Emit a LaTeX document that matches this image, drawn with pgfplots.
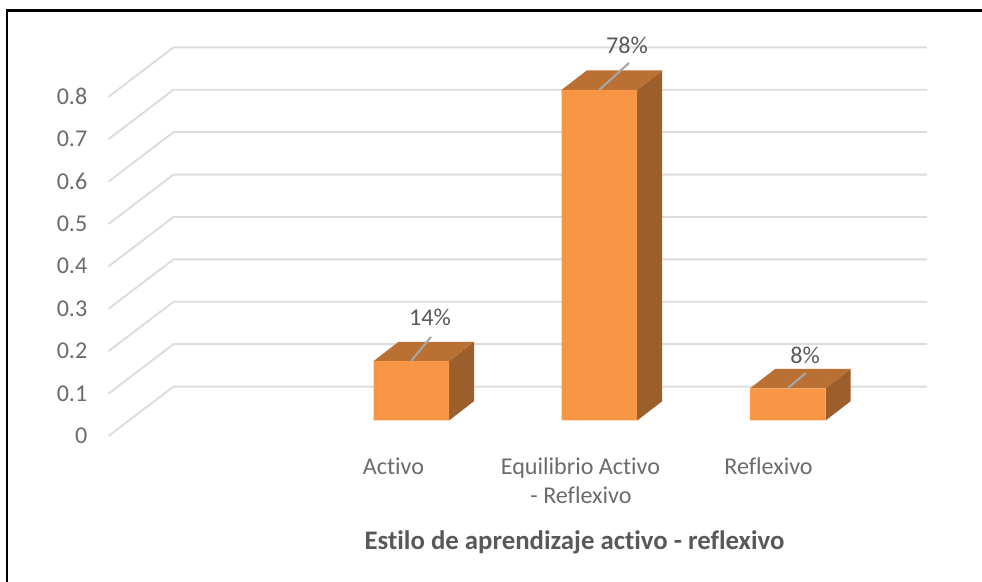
\documentclass[border=0pt]{standalone}
\usepackage{fontspec}
\setmainfont[RawFeature={-liga}]{Carlito}
\usepackage{pgfplots}
\pgfplotsset{compat=1.18}
\definecolor{front}{HTML}{F99645}
\definecolor{topf}{HTML}{BA7033}
\definecolor{sidef}{HTML}{9C5E2A}
\definecolor{gridc}{HTML}{DCDCDC}
\definecolor{leader}{HTML}{A6A6A6}
\definecolor{txt}{HTML}{595959}
\definecolor{tick}{HTML}{6B6B6B}
\newcommand{\fs}{\fontsize{24.2pt}{28pt}\selectfont}
\begin{document}
\begin{tikzpicture}
\useasboundingbox (0,0) rectangle (982bp,582bp);
\begin{axis}[
  at={(0,0)}, anchor=south west,
  scale only axis, width=982bp, height=582bp,
  xmin=0, xmax=982, ymin=-0.38090, ymax=0.99175,
  axis lines=none, clip=false,
]
% frame
\addplot[black, line width=2.4bp, no marks, line join=miter] coordinates {(7,-0.38090) (7,0.9669) (982,0.9669)};
% gridlines: front end, back corner, right end (offset of the 3D floor)
\pgfplotsinvokeforeach{0,0.1,0.2,0.3,0.4,0.5,0.6,0.7,0.8}{
  \addplot[gridc, line width=1.9bp, no marks] coordinates {(108.5,#1-0.0366) (173.5,#1+0.08) (927,#1+0.08)};
}
% side faces
\addplot[sidef, fill=sidef, draw=none, no marks] coordinates {(449,0) (474,0.0455) (474,0.1855) (449,0.14)};
\addplot[sidef, fill=sidef, draw=none, no marks] coordinates {(637.2,0) (662.2,0.0455) (662.2,0.8255) (637.2,0.78)};
\addplot[sidef, fill=sidef, draw=none, no marks] coordinates {(825.6,0) (850.6,0.0455) (850.6,0.1215) (825.6,0.076)};
% top faces
\addplot[topf, fill=topf, draw=none, no marks] coordinates {(373.5,0.14) (449,0.14) (474,0.1855) (398.5,0.1855)};
\addplot[topf, fill=topf, draw=none, no marks] coordinates {(561.7,0.78) (637.2,0.78) (662.2,0.8255) (586.7,0.8255)};
\addplot[topf, fill=topf, draw=none, no marks] coordinates {(750.1,0.076) (825.6,0.076) (850.6,0.1215) (775.1,0.1215)};
% front faces
\addplot[ybar, bar width=75.5bp, bar shift=0pt, fill=front, draw=none] coordinates {(411.25,0.14) (599.45,0.78) (787.85,0.076)};
% leader lines
\addplot[leader, line width=2.1bp, no marks] coordinates {(411,0.14) (431,0.1972)};
\addplot[leader, line width=2.1bp, no marks] coordinates {(599.3,0.78) (629,0.8432)};
\addplot[leader, line width=2.1bp, no marks] coordinates {(787.7,0.076) (805.7,0.1120)};
% data labels
\node[anchor=base, text=txt, font=\fs, inner sep=0pt] at (axis cs:430,0.2229) {14\%};
\node[anchor=base, text=txt, font=\fs, inner sep=0pt] at (axis cs:627,0.8663) {78\%};
\node[anchor=base, text=txt, font=\fs, inner sep=0pt] at (axis cs:805,0.1356) {8\%};
% category labels
\node[anchor=base, text=tick, font=\fs, inner sep=0pt] at (axis cs:393.5,-0.1262) {Activo};
\node[anchor=base, text=tick, font=\fs, inner sep=0pt] at (axis cs:580.5,-0.1262) {Equilibrio Activo};
\node[anchor=base, text=tick, font=\fs, inner sep=0pt] at (axis cs:581,-0.1969) {- Reflexivo};
\node[anchor=base, text=tick, font=\fs, inner sep=0pt] at (axis cs:768.5,-0.1262) {Reflexivo};
% axis title
\node[anchor=base, text=txt, font=\fontsize{26.9pt}{30pt}\selectfont\bfseries, inner sep=0pt] at (axis cs:574.5,-0.3031) {Estilo de aprendizaje activo - reflexivo};
\end{axis}
\begin{axis}[
  at={(108bp,146bp)}, anchor=south west,
  scale only axis, width=100bp, height=340bp,
  xmin=0, xmax=1, ymin=0, ymax=0.8,
  axis x line=none, axis y line=left, y axis line style={draw=none},
  major tick length=0pt,
  ytick={0,0.1,0.2,0.3,0.4,0.5,0.6,0.7,0.8},
  yticklabels={0,0.1,0.2,0.3,0.4,0.5,0.6,0.7,0.8},
  y tick label style={font=\fs, text=tick, inner sep=0pt, xshift=-20.5bp},
  /pgf/number format/assume math mode=true,
]
\addplot[draw=none, no marks] coordinates {(0,0) (1,0.8)};
\end{axis}
\end{tikzpicture}
\end{document}
